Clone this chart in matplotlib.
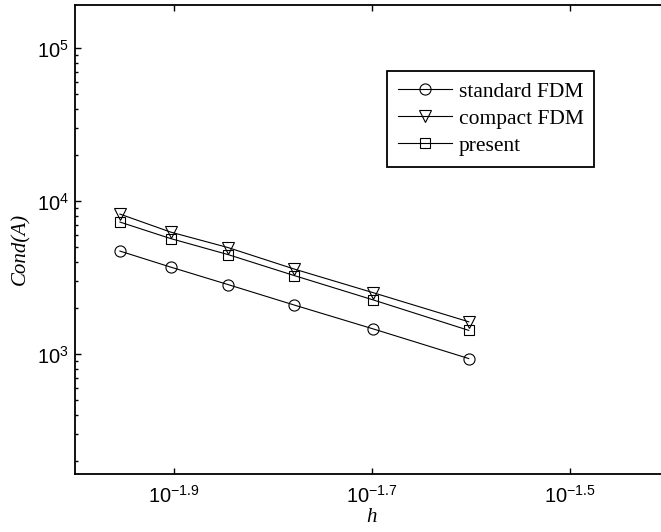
import numpy as np
import matplotlib
matplotlib.use("Agg")
import matplotlib.pyplot as plt
from matplotlib.ticker import FixedLocator, FixedFormatter, NullLocator, LogLocator, NullFormatter

# data
h_inv = [90, 80, 70, 60, 50, 40]
cond_standard = [4733, 3721, 2859, 2100, 1470, 939]
cond_compact = [8260, 6300, 4990, 3610, 2535, 1633]
cond_present = [7325, 5715, 4490, 3273, 2274, 1435]

x_tick_exp = [-1.9, -1.7, -1.5]
x_tick_labels = [r'$10^{-1.9}$', r'$10^{-1.7}$', r'$10^{-1.5}$']
y_tick_vals = [1e3, 1e4, 1e5]
y_tick_labels = [r'$10^{3}$', r'$10^{4}$', r'$10^{5}$']

plt.rcParams['font.family'] = ['Liberation Sans', 'DejaVu Sans']
plt.rcParams['mathtext.default'] = 'regular'

h = 1.0 / np.array(h_inv, dtype=float)

fig = plt.figure(figsize=(6.61, 5.32), dpi=100)
ax = fig.add_axes([0.1129, 0.109, 0.899, 0.882])

line_kw = dict(color='black', lw=0.8, markerfacecolor='none', markeredgecolor='black',
               markeredgewidth=0.8)
ax.loglog(h, cond_standard, marker='o', ms=8, label='standard FDM', **line_kw)
ax.loglog(h, cond_compact, marker='v', ms=9, label='compact FDM', **line_kw)
ax.loglog(h, cond_present, marker='s', ms=7, label='present', **line_kw)

ax.set_xlim(10 ** -2.0, 10 ** -1.4)
ax.set_ylim(10 ** 2.218, 10 ** 5.285)

ax.xaxis.set_major_locator(FixedLocator([10 ** e for e in x_tick_exp]))
ax.xaxis.set_major_formatter(FixedFormatter(x_tick_labels))
ax.xaxis.set_minor_locator(NullLocator())
ax.yaxis.set_major_locator(FixedLocator(y_tick_vals))
ax.yaxis.set_major_formatter(FixedFormatter(y_tick_labels))
ax.yaxis.set_minor_locator(LogLocator(base=10, subs=np.arange(2, 10)))
ax.yaxis.set_minor_formatter(NullFormatter())

ax.tick_params(which='both', direction='in', top=True, right=True, width=1.0)
ax.tick_params(which='major', length=4, labelsize=14.5, pad=4)
ax.tick_params(which='minor', length=2.2)
ax.tick_params(axis='x', which='major', pad=8)

for sp in ax.spines.values():
    sp.set_linewidth(1.3)

ax.set_xlabel('h', family='Liberation Serif', style='italic', fontsize=15)
ax.xaxis.set_label_coords(0.5, -0.072)
ax.set_ylabel('Cond(A)', family='Liberation Serif', style='italic', fontsize=15)
ax.yaxis.set_label_coords(-0.075, 0.48)

leg = ax.legend(loc='upper left', bbox_to_anchor=(0.5256, 0.8587), borderaxespad=0,
                prop={'family': 'Liberation Serif', 'size': 15.5}, fancybox=False,
                framealpha=1, edgecolor='black', handlelength=2.5, handletextpad=0.33,
                labelspacing=0.32, borderpad=0.5)
leg.get_frame().set_linewidth(1.3)

fig.savefig('out.png', dpi=100)
